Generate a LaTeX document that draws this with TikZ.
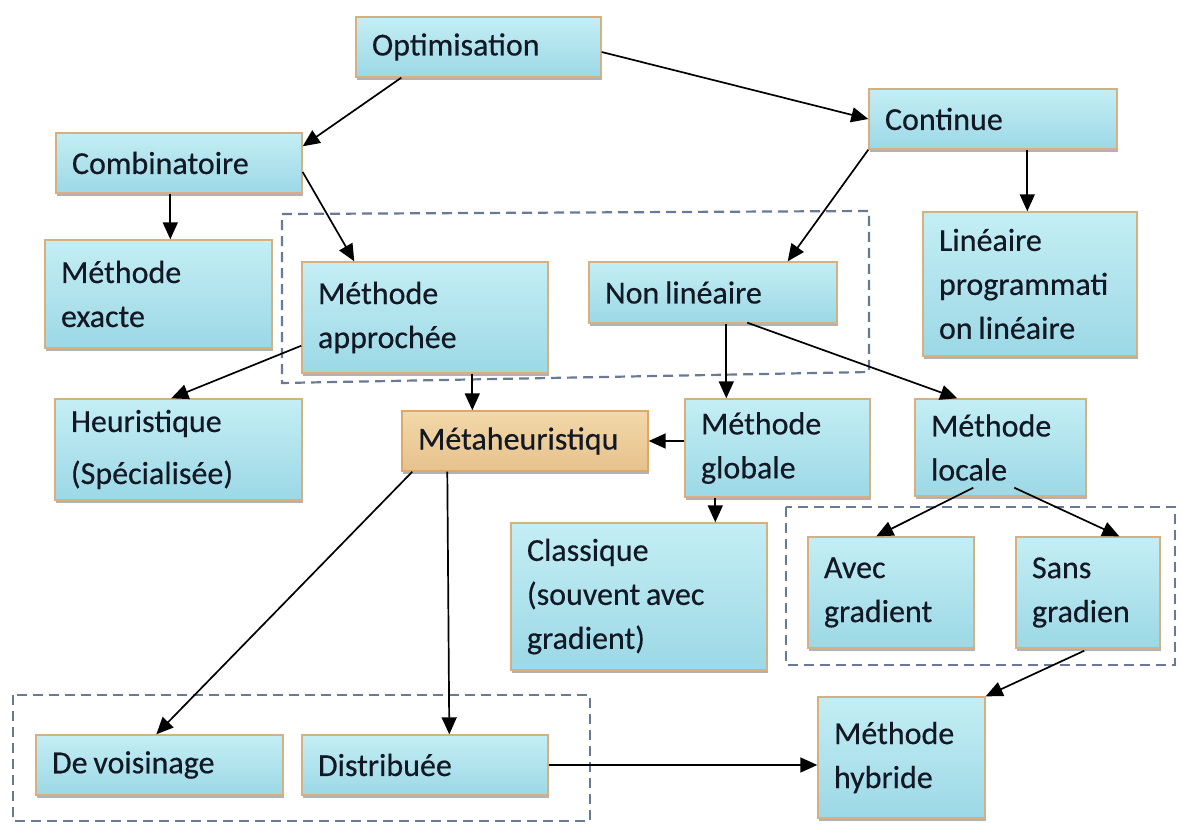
\documentclass[tikz,border=0pt]{standalone}
\usepackage{fontspec}
\setmainfont[FakeBold=0.4, WordSpace={0.8,0,0}]{Carlito}
\usetikzlibrary{arrows.meta,shadows,calc}

\definecolor{aquatop}{RGB}{196,238,244}
\definecolor{aquabot}{RGB}{156,216,230}
\definecolor{boxrim}{RGB}{214,176,128}
\definecolor{tantop}{RGB}{243,216,170}
\definecolor{tanbot}{RGB}{230,194,140}
\definecolor{tanrim}{RGB}{222,168,105}
\definecolor{framecol}{RGB}{105,122,150}
\definecolor{ink}{RGB}{18,24,36}

\tikzset{
  box/.style={rectangle, draw=boxrim, line width=1.4pt,
    top color=aquatop, bottom color=aquabot,
    inner xsep=16pt, inner ysep=0pt, align=flush left, text=ink,
    font=\fontsize{32}{44}\selectfont,
    drop shadow={shadow xshift=1pt, shadow yshift=-3pt, fill=black!60, opacity=0.5}},
  tanbox/.style={box, draw=tanrim, top color=tantop, bottom color=tanbot},
  arr/.style={-{Triangle[length=17pt,width=15pt]}, line width=1.7pt, black},
  grouping/.style={draw=framecol, line width=2.2pt, dash pattern=on 10pt off 6pt},
}

\begin{document}
\begin{tikzpicture}[x=1pt,y=-1pt]
\useasboundingbox (0,0) rectangle (1181,824);
\fill[white] (0,0) rectangle (1181,824);

% dashed groupings
\draw[grouping] (282,214) -- (869,211) -- (869,372) -- (282,383) -- cycle;
\draw[grouping] (786,507) rectangle (1175,665);
\draw[grouping] (13,695) rectangle (590,821);

% boxes
\node[box, minimum width=245pt, minimum height=60pt, text width=213pt] (opt) at (478.5,47) {Optimisation};
\node[box, minimum width=248pt, minimum height=60pt, text width=216pt] (cont) at (993,119) {Continue};
\node[box, minimum width=246pt, minimum height=60pt, text width=214pt] (comb) at (179,163) {Combinatoire};
\node[box, minimum width=227pt, minimum height=108pt, text width=195pt] (exact) at (158.5,294) {Méthode\\exacte};
\node[box, minimum width=246pt, minimum height=111pt, text width=214pt] (appr) at (425,317.5) {Méthode\\approchée};
\node[box, minimum width=248pt, minimum height=61pt, text width=216pt] (nonlin) at (713,292.5) {Non linéaire};
\node[box, minimum width=214pt, minimum height=144pt, text width=182pt] (lin) at (1030,284) {Linéaire\\programmati\\on linéaire};
\node[box, minimum width=247pt, minimum height=101pt, text width=215pt] (heur) at (178.5,449.5) {Heuristique\\[8pt](Spécialisée)};
\node[tanbox, minimum width=246pt, minimum height=60pt, text width=214pt] (meta) at (525,441) {Métaheuristiqu};
\node[box, minimum width=185pt, minimum height=98pt, text width=153pt] (glob) at (777.5,448) {Méthode\\globale};
\node[box, minimum width=171pt, minimum height=97pt, text width=139pt] (loc) at (1000.5,447.5) {Méthode\\locale};
\node[box, minimum width=256pt, minimum height=147pt, text width=224pt] (class) at (639,596.5) {Classique\\(souvent avec\\gradient)};
\node[box, minimum width=166pt, minimum height=111pt, text width=134pt] (avec) at (891,592.5) {Avec\\gradient};
\node[box, minimum width=144pt, minimum height=111pt, text width=112pt] (sans) at (1088,592.5) {Sans\\gradien};
\node[box, minimum width=247pt, minimum height=60pt, text width=215pt] (vois) at (159.5,765) {De voisinage};
\node[box, minimum width=246pt, minimum height=60pt, text width=214pt] (dist) at (425,765) {Distribuée};
\node[box, minimum width=167pt, minimum height=121pt, text width=135pt] (hyb) at (901.5,757.5) {Méthode\\hybride};

% connectors
\draw[arr] ($(opt.south west)+(46,0)$) -- ($(comb.north east)+(0,14)$);
\draw[arr] ($(opt.east)+(0,5)$) -- (cont.west);
\draw[arr] ($(comb.south west)+(115,0)$) -- ($(exact.north west)+(126,0)$);
\draw[arr] ($(comb.east)+(0,9)$) -- ($(appr.north west)+(53,0)$);
\draw[arr] (cont.south west) -- ($(nonlin.north east)+(-50,0)$);
\draw[arr] ($(cont.south west)+(159,0)$) -- ($(lin.north west)+(105,0)$);
\draw[arr] ($(appr.south west)+(0,-28)$) -- ($(heur.north west)+(117,0)$);
\draw[arr] ($(appr.south west)+(171,0)$) -- ($(meta.north west)+(71,0)$);
\draw[arr] ($(nonlin.south west)+(138,0)$) -- ($(glob.north west)+(42,0)$);
\draw[arr] ($(nonlin.south west)+(159,-1)$) -- ($(loc.north west)+(43,0)$);
\draw[arr] (glob.west |- meta.east) -- (meta.east);
\draw[arr] ($(glob.south west)+(31,0)$) -- ($(class.north west)+(205,0)$);
\draw[arr] ($(loc.south west)+(59,-9)$) -- ($(avec.north west)+(69,0)$);
\draw[arr] ($(loc.south west)+(100,-9)$) -- ($(sans.north west)+(104,0)$);
\draw[arr] ($(meta.south west)+(11,0)$) -- ($(vois.north west)+(121,0)$);
\draw[arr] ($(meta.south west)+(46,0)$) -- ($(dist.north west)+(148,0)$);
\draw[arr] (dist.east) -- (hyb.west |- dist.east);
\draw[arr] ($(sans.south west)+(69,2)$) -- (hyb.north east);
\end{tikzpicture}
\end{document}
